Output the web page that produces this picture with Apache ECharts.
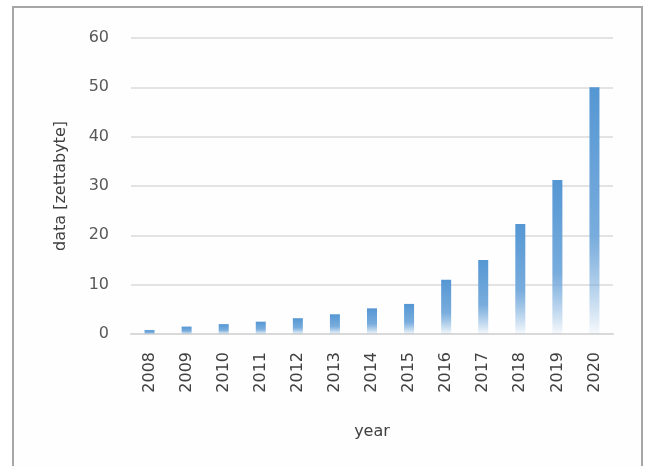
<!DOCTYPE html>
<html>
<head>
<meta charset="utf-8">
<script src="https://cdn.jsdelivr.net/npm/echarts@6/dist/echarts.min.js"></script>
<style>
  html, body { margin: 0; padding: 0; background: #ffffff; }
  #chart { width: 646px; height: 466px; }
</style>
</head>
<body>
<div id="chart"></div>
<script>
// 数据
const years = ['2008', '2009', '2010', '2011', '2012', '2013', '2014', '2015', '2016', '2017', '2018', '2019', '2020']
const zettabytes = [0.8, 1.5, 2.0, 2.5, 3.2, 4.0, 5.2, 6.1, 11.0, 15.0, 22.3, 31.2, 50.0]
const yTicks = { min: 0, max: 60, step: 10 }

const chart = echarts.init(document.getElementById('chart'))

const labelFont = 'DejaVu Sans'

const option = {
  backgroundColor: '#ffffff',
  animation: false,
  graphic: [{
    type: 'rect',
    silent: true,
    shape: { x: 13, y: 7, width: 629, height: 470 },
    style: { fill: '#fefefe', stroke: '#a6a6a6', lineWidth: 2 },
    z: -10
  }],
  grid: {
    left: 131,
    right: 33,
    top: 38,
    bottom: 132
  },
  xAxis: {
    type: 'category',
    data: years,
    name: 'year',
    nameLocation: 'middle',
    nameGap: 90,
    nameTextStyle: { color: '#404040', fontSize: 16, fontFamily: labelFont },
    axisLine: { lineStyle: { color: '#d9d9d9', width: 2 } },
    axisTick: { show: false },
    axisLabel: {
      rotate: 90,
      interval: 0,
      margin: 18,
      color: '#404040',
      fontSize: 16,
      fontFamily: labelFont
    }
  },
  yAxis: {
    type: 'value',
    min: yTicks.min,
    max: yTicks.max,
    interval: yTicks.step,
    name: 'data [zettabyte]',
    nameLocation: 'middle',
    nameGap: 62,
    nameTextStyle: { color: '#404040', fontSize: 16, fontFamily: labelFont },
    axisLine: { show: false },
    axisTick: { show: false },
    splitLine: { lineStyle: { color: '#e3e3e3', width: 2 } },
    axisLabel: {
      margin: 22,
      color: '#595959',
      fontSize: 16,
      fontFamily: labelFont
    }
  },
  series: [{
    type: 'bar',
    data: zettabytes,
    barWidth: 10,
    itemStyle: {
      color: new echarts.graphic.LinearGradient(0, 0, 0, 1, [
        { offset: 0, color: '#5597d3' },
        { offset: 0.6, color: '#78acdd' },
        { offset: 1, color: 'rgba(91,155,213,0.05)' }
      ])
    }
  }]
}

chart.setOption(option)
</script>
</body>
</html>
